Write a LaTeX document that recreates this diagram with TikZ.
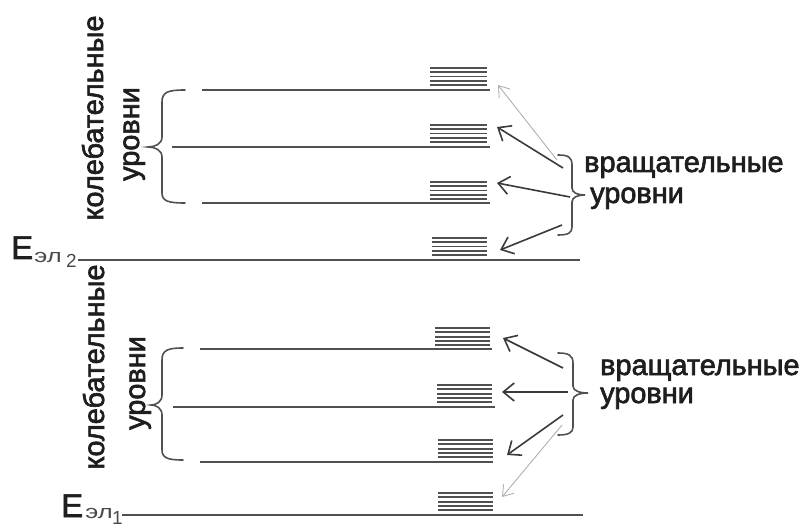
\documentclass[tikz,border=0pt]{standalone}
\usepackage{fontspec}
\setmainfont{Liberation Sans}
\newfontfamily\heavy[FakeBold=2.2]{Liberation Sans}
\usetikzlibrary{arrows.meta}
\definecolor{linegray}{HTML}{505050}
\definecolor{arrdark}{HTML}{3A3A3A}
\definecolor{arrlight}{HTML}{B0B0B0}
\definecolor{txt}{HTML}{1E1E1E}
\definecolor{subgray}{HTML}{4A4A4A}
\newcommand\rotstack[3]{\foreach \k in {0,...,4}{\draw[rotline] (#1,#3+\k*4.3) -- (#2,#3+\k*4.3);}}
\begin{document}
\begin{tikzpicture}[x=1bp,y=-1bp,
  lvl/.style={draw=linegray, line width=1.9bp},
  rotline/.style={draw=linegray, line width=1.8bp},
  brc/.style={draw=linegray, line width=1.6bp, line cap=round},
  darr/.style={draw=arrdark, line width=1.6bp, -{Straight Barb[length=11bp,width=18bp,line width=1.6bp]}},
  larr/.style={draw=arrlight, line width=0.9bp, -{Straight Barb[length=10bp,width=14bp,line width=0.9bp]}},
  lbl/.style={font=\heavy\fontsize{29}{32}\selectfont, text=txt, inner sep=0pt},
  bigE/.style={font=\heavy\fontsize{33}{35}\selectfont, text=txt, inner sep=0pt},
  subl/.style={font=\fontsize{19}{21}\selectfont, text=subgray, inner sep=0pt},
 ]
\useasboundingbox (0,0) rectangle (800,530);

% ---------- upper electronic state ----------
\draw[lvl] (202,90) -- (490,90);
\draw[lvl] (172,147) -- (490,147);
\draw[lvl] (202,203) -- (490,203);
\draw[lvl] (78,260) -- (580,260);
\rotstack{430}{487}{68}
\rotstack{430}{487}{125}
\rotstack{430}{487}{182}
\rotstack{432}{487}{238}

\draw[brc] (185,90) .. controls (168,90) and (162,92) .. (162,102) -- (162,137)
  .. controls (162,144) and (155,147) .. (148,147)
  .. controls (155,147) and (162,150) .. (162,157) -- (162,193)
  .. controls (162,201) and (168,203) .. (185,203);

\node[lbl, rotate=90, anchor=base] (kol2) at (103,118) {колебательные};
\node[lbl, rotate=90, anchor=base] (urv2) at (139,134) {уровни};

\node[bigE, anchor=base west] (E2) at (11,259) {E};
\node[subl, xscale=1.35, anchor=base west] (el2) at (34,263) {эл};
\node[subl, anchor=base west] (n2) at (66,268) {2};

\draw[brc] (558,155) .. controls (568,155) and (572,157) .. (572,165) -- (572,188)
  .. controls (572,193) and (578,195) .. (585,195)
  .. controls (578,195) and (572,197) .. (572,202) -- (572,227)
  .. controls (572,233) and (568,235) .. (558,235);

\node[lbl, anchor=base west] (vr2) at (584,172) {вращательные};
\node[lbl, anchor=base west] (ur2) at (590,203) {уровни};

\coordinate (t1) at (557,160); \coordinate (h1) at (498,85);
\coordinate (t2) at (563,168); \coordinate (h2) at (497,127);
\coordinate (t3) at (570,197); \coordinate (h3) at (497,183);
\coordinate (t4) at (562,225); \coordinate (h4) at (500,250);
\draw[larr] (t1) -- (h1);
\draw[darr] (t2) -- (h2);
\draw[darr] (t3) -- (h3);
\draw[darr] (t4) -- (h4);

% ---------- lower electronic state ----------
\draw[lvl] (200,349) -- (492,349);
\draw[lvl] (173,407) -- (495,407);
\draw[lvl] (200,462) -- (493,462);
\draw[lvl] (122,515) -- (583,515);
\rotstack{435}{490}{328}
\rotstack{437}{492}{385}
\rotstack{438}{493}{440}
\rotstack{438}{493}{493}

\draw[brc] (183,348) .. controls (168,348) and (162,350) .. (162,360) -- (162,395)
  .. controls (162,402) and (156,405) .. (151,405)
  .. controls (156,405) and (162,408) .. (162,415) -- (162,450)
  .. controls (162,458) and (168,460) .. (183,460);

\node[lbl, rotate=90, anchor=base] (kol1) at (104,367) {колебательные};
\node[lbl, rotate=90, anchor=base] (urv1) at (145,383) {уровни};

\node[bigE, anchor=base west] (E1) at (61,517) {E};
\node[subl, xscale=1.35, anchor=base west] (el1) at (85,518) {эл};
\node[subl, anchor=base west] (n1) at (112,524) {1};

\draw[brc] (558,353) .. controls (568,353) and (573,355) .. (573,363) -- (573,386)
  .. controls (573,391) and (580,393) .. (588,393)
  .. controls (580,393) and (573,395) .. (573,400) -- (573,427)
  .. controls (573,433) and (568,435) .. (558,435);

\node[lbl, anchor=base west] (vr1) at (600,375) {вращательные};
\node[lbl, anchor=base west] (ur1) at (600,403) {уровни};

\coordinate (u1) at (563,368); \coordinate (g1) at (503,338);
\coordinate (u2) at (568,392); \coordinate (g2) at (502,392);
\coordinate (u3) at (563,415); \coordinate (g3) at (507,455);
\coordinate (u4) at (562,425); \coordinate (g4) at (502,497);
\draw[darr] (u1) -- (g1);
\draw[darr] (u2) -- (g2);
\draw[darr] (u3) -- (g3);
\draw[larr] (u4) -- (g4);
\end{tikzpicture}
\end{document}
